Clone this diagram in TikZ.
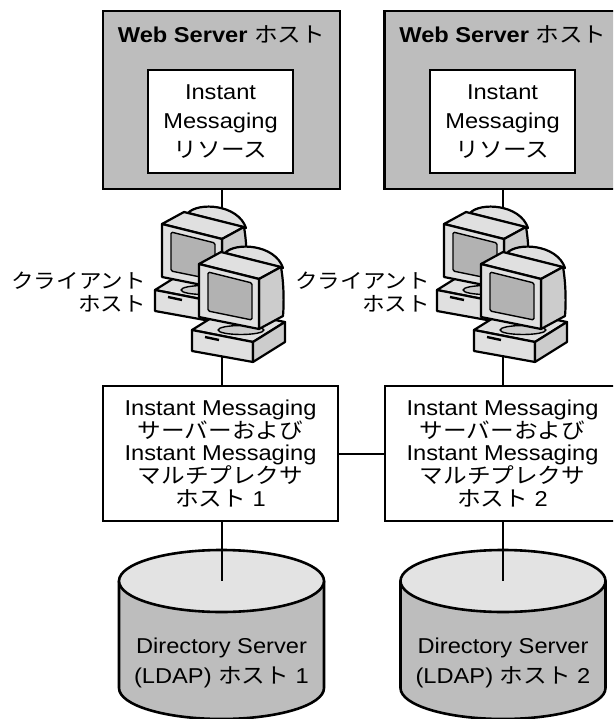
\documentclass[tikz,border=0pt]{standalone}
\usepackage{fontspec}
\setmainfont{Liberation Sans}[FakeStretch=1.1]
\newfontfamily\kanafont{Noto Sans CJK JP}[FakeStretch=1.1]
\newcommand{\kana}[1]{{\kanafont #1}}

\definecolor{hostgray}{gray}{0.74}
\definecolor{pclight}{gray}{0.88}
\definecolor{pcside}{gray}{0.80}
\definecolor{pcscreen}{gray}{0.70}
\definecolor{dbtop}{gray}{0.89}
\definecolor{dbbody}{gray}{0.74}

% desktop computer icon; origin = top-left corner of the monitor bezel
\newcommand{\desktop}[2]{%
  \begin{scope}[shift={(#1,#2)}, pcline]
    % system unit
    \filldraw[fill=pclight] (-7,66) -- (54,78) -- (86,58) -- (25,46) -- cycle;
    \filldraw[fill=pclight] (-7,66) -- (54,78) -- (54,98) -- (-7,87) -- cycle;
    \filldraw[fill=pcside] (54,78) -- (86,58) -- (86,78) -- (54,98) -- cycle;
    \draw[line width=2.4pt] (6,73) -- (20,76);
    % stand
    \filldraw[fill=pcside, line width=1.4pt] (42,66) ellipse [x radius=23, y radius=4.5];
    % monitor
    \filldraw[fill=pclight] (26,-11) .. controls (36,-22) and (76,-20) .. (84,4) -- cycle;
    \filldraw[fill=pclight] (0,0) -- (60,15) -- (82,3) -- (22,-12) -- cycle;
    \filldraw[fill=pcside] (60,15) -- (82,3) .. controls (85,20) and (85,40) .. (84,52) -- (60,65) -- cycle;
    \filldraw[fill=pclight] (0,0) -- (60,15) -- (60,65) -- (0,53) -- cycle;
    \filldraw[fill=pcscreen, line width=1.4pt, rounded corners=1.5pt]
      (9,8) -- (53,19) -- (53,56) -- (9,47) -- cycle;
  \end{scope}}

% directory server cylinder
\newcommand{\dbcyl}[1]{%
  \filldraw[dbline, fill=dbbody] (#1-102.5,581) -- (#1-102.5,688)
    arc[start angle=180, end angle=0, x radius=102.5, y radius=31]
    -- (#1+102.5,581) -- cycle;
  \filldraw[dbline, fill=dbtop] (#1,581) ellipse [x radius=102.5, y radius=31];}

\begin{document}
\begin{tikzpicture}[x=1pt, y=-1pt,
  every node/.style={inner sep=0pt, font=\fontsize{21.5}{23}\selectfont},
  hostbox/.style={draw, line width=2.6pt, fill=hostgray,
    minimum width=237pt, minimum height=178pt},
  resbox/.style={draw, line width=2.6pt, fill=white,
    minimum width=145pt, minimum height=103pt, align=center,
    font=\fontsize{21.5}{29}\selectfont},
  imbox/.style={draw, line width=2.4pt, fill=white,
    minimum width=235pt, minimum height=135pt, align=center,
    font=\fontsize{21.5}{22.7}\selectfont},
  clientlabel/.style={anchor=east, align=right,
    font=\fontsize{20.5}{23.5}\selectfont},
  dblabel/.style={align=center, font=\fontsize{21.5}{30}\selectfont},
  link/.style={line width=2pt},
  pcline/.style={line width=2.2pt, line join=round},
  dbline/.style={line width=2.6pt, line join=round}]

\useasboundingbox (0,0) rectangle (613,719);
\clip (0,0) rectangle (613,719);

% Web Server hosts
\node[hostbox] (webL) at (221.5,100) {};
\node[hostbox] (webR) at (503,100) {};
\node[anchor=base] (webLtitle) at (221.5,43) {\textbf{Web Server} \kana{ホスト}};
\node[anchor=base] (webRtitle) at (503,43) {\textbf{Web Server} \kana{ホスト}};
\node[resbox] (resL) at (220.5,121.5) {Instant\\Messaging\\\kana{リソース}};
\node[resbox] (resR) at (502.5,121.5) {Instant\\Messaging\\\kana{リソース}};

% Instant Messaging server / multiplexor hosts
\node[imbox] (imL) at (220.5,453.5)
  {Instant Messaging\\\kana{サーバーおよび}\\Instant Messaging\\\kana{マルチプレクサ}\\\kana{ホスト} 1};
\node[imbox] (imR) at (502.5,453.5)
  {Instant Messaging\\\kana{サーバーおよび}\\Instant Messaging\\\kana{マルチプレクサ}\\\kana{ホスト} 2};

% links from the web servers down to the IM hosts (behind the clients)
\draw[link] (webL.south) -- (webL.south |- imL.north);
\draw[link] (webR.south) -- (webR.south |- imR.north);
\draw[link] (imL.east) -- (imR.west);

% client hosts
\desktop{162}{224}
\desktop{199}{264}
\desktop{444}{224}
\desktop{481}{264}
\node[clientlabel] (cliL) at (146,292) {\kana{クライアント}\\\kana{ホスト}};
\node[clientlabel] (cliR) at (430,292) {\kana{クライアント}\\\kana{ホスト}};

% directory servers
\dbcyl{221.5}
\dbcyl{503}
\coordinate (dbL) at (221.5,581);
\coordinate (dbR) at (503,581);
\draw[link] (imL.south -| dbL) -- (dbL);
\draw[link] (imR.south -| dbR) -- (dbR);
\node[dblabel] (dbLtext) at (221.5,662.7) {Directory Server\\(LDAP) \kana{ホスト} 1};
\node[dblabel] (dbRtext) at (503,662.7) {Directory Server\\(LDAP) \kana{ホスト} 2};

\end{tikzpicture}
\end{document}
